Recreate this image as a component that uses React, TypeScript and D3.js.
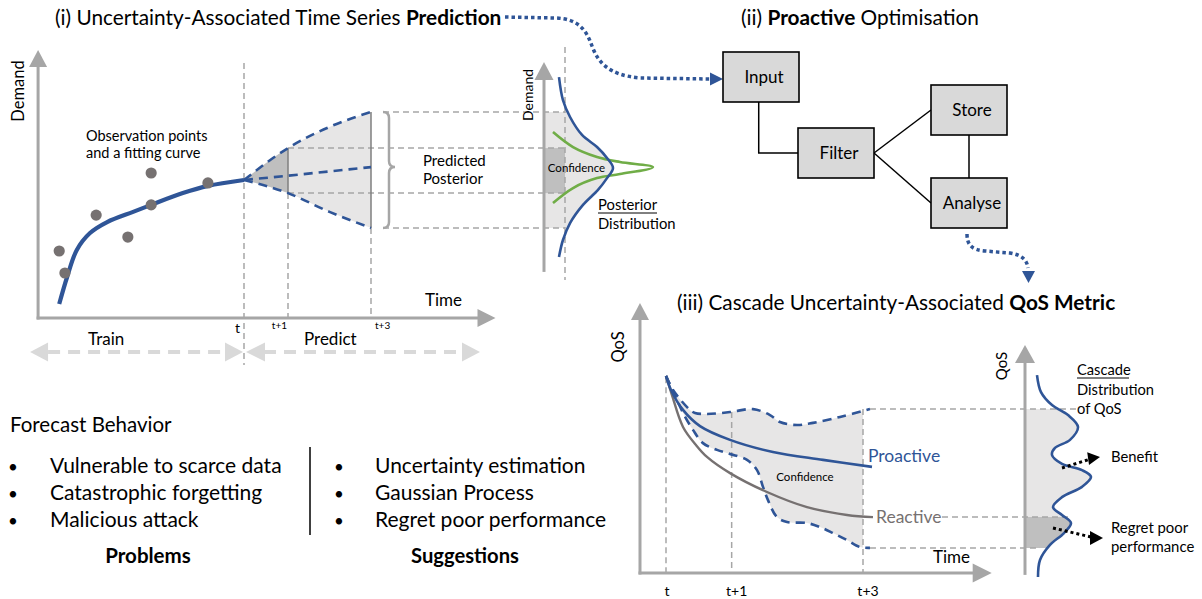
import React from "react";
import * as d3 from "d3";

// ---------------- Panel (i): time series prediction ----------------
const obsTime = [-4.2, -4.07, -3.36, -2.64, -2.11, -2.11, -0.82];
const obsDemand = [2.5, 1.68, 3.84, 3.02, 5.41, 4.22, 5.04];
const fitTime = [-4.2, -4.02, -3.8, -3.5, -3.11, -2.52, -2.11, -1.39, -0.82, 0];
const fitDemand = [0.52, 1.53, 2.54, 3.17, 3.58, 3.96, 4.22, 4.66, 4.93, 5.15];
const coneTime = [0, 1, 2, 3];
const coneUpper = [5.15, 6.34, 7.13, 7.69];
const coneMid = [5.15, 5.31, 5.47, 5.63];
const coneLower = [5.15, 4.66, 3.96, 3.36];
const predTickTimes = [0, 1, 3];
const predTickLabels = ["t", "t+1", "t+3"];
// posterior distribution (density vs demand)
const postDensity = [1.25, 1.58, 2.17, 3.17, 4.42, 5.25, 5.75, 5.25, 4.5, 3.25, 2.17, 1.58, 1.25];
const postDemand = [8.99, 8.13, 7.5, 6.83, 6.38, 5.97, 5.6, 5.22, 4.78, 4.22, 3.54, 2.91, 2.28];
const confDensity = [0.75, 2.42, 4.42, 6.33, 9.08, 6.33, 4.42, 2.42, 0.75];
const confDemand = [6.94, 6.38, 6.01, 5.82, 5.63, 5.37, 5.22, 4.85, 4.29];

// ---------------- Panel (iii): QoS metric ----------------
const qosTickTimes = [0, 1, 3];
const qosTickLabels = ["t", "t+1", "t+3"];
const proactiveTime = [0, 0.076, 0.259, 0.518, 0.975, 1.629, 2.391, 3.137];
const proactiveQoS = [7.3, 6.78, 6.04, 5.44, 4.93, 4.48, 4.19, 3.93];
const reactiveTime = [0, 0.091, 0.259, 0.457, 0.624, 0.975, 1.538, 2.147, 2.756, 3.152];
const reactiveQoS = [7.3, 6.59, 5.41, 4.74, 4.3, 3.7, 3.0, 2.44, 2.15, 2.07];
const bandUpperTime = [0, 0.107, 0.365, 0.442, 0.624, 0.975, 1.325, 1.584, 1.736, 1.995, 2.239, 2.65, 3.106];
const bandUpperQoS = [7.3, 6.78, 6.04, 5.93, 5.89, 5.96, 6.07, 5.85, 5.59, 5.48, 5.56, 5.78, 6.07];
const bandLowerTime = [0, 0.167, 0.259, 0.411, 0.563, 0.777, 0.975, 1.234, 1.386, 1.477, 1.553, 1.69, 1.843, 2.147, 2.345, 2.543, 2.756, 2.954, 3.106];
const bandLowerQoS = [7.3, 6.41, 5.93, 5.3, 4.81, 4.56, 4.41, 4.19, 3.81, 3.19, 2.7, 2.07, 1.89, 1.85, 1.7, 1.48, 1.22, 0.96, 0.93];
const cascadeDensity = [1.2, 1.6, 2.7, 4.3, 5.3, 4.5, 3.0, 2.7, 3.7, 5.7, 6.6, 5.7, 3.7, 2.8, 3.7, 4.6, 3.9, 2.5, 1.5, 1.3];
const cascadeQoS = [7.33, 6.7, 6.22, 5.85, 5.41, 4.93, 4.63, 4.37, 4.04, 3.81, 3.56, 3.19, 2.81, 2.44, 2.15, 1.85, 1.48, 1.04, 0.48, -0.15];

// ---------------- Panel (ii): flow ----------------
const flowNodes = ["Input", "Filter", "Store", "Analyse"];
const flowEdges: [string, string][] = [
  ["Input", "Filter"],
  ["Filter", "Store"],
  ["Filter", "Analyse"],
  ["Store", "Analyse"],
];

// ---------------- Text lists ----------------
const problems = ["Vulnerable to scarce data", "Catastrophic forgetting", "Malicious attack"];
const suggestions = ["Uncertainty estimation", "Gaussian Process", "Regret poor performance"];

// ---------------- styles ----------------
const BLUE = "#2f5597";
const AXIS = "#a6a6a6";
const GRID = "#a6a6a6";
const DOT = "#767171";
const LIGHT = "#e7e6e6";
const DARK = "#bfbfbf";
const GREEN = "#70ad47";
const FONT = "Lato, 'Open Sans', sans-serif";

type Dir = "up" | "down" | "right" | "left";
function tri(x: number, y: number, dir: Dir, len: number, half: number) {
  let pts: number[][] = [];
  if (dir === "up") pts = [[x, y], [x - half, y + len], [x + half, y + len]];
  if (dir === "down") pts = [[x, y], [x - half, y - len], [x + half, y - len]];
  if (dir === "right") pts = [[x, y], [x - len, y - half], [x - len, y + half]];
  if (dir === "left") pts = [[x, y], [x + len, y - half], [x + len, y + half]];
  return pts.map((p) => p.join(",")).join(" ");
}

const zip = (a: number[], b: number[]) => a.map((v, i) => [v, b[i]] as [number, number]);

export default function App() {
  // Panel (i) scales
  const xA = d3.scaleLinear().domain([0, 1, 3]).range([244, 288, 371]);
  const yA = d3.scaleLinear().domain([0, 10]).range([318, 50]);
  const dA = d3.scaleLinear().domain([0, 10]).range([544, 664]);
  const tMinA = -4.68;
  const tMaxA = 6;

  // Panel (iii) scales
  const xC = d3.scaleLinear().domain([0, 3]).range([666, 863]);
  const yC = d3.scaleLinear().domain([0, 10]).range([573, 303]);
  const cC = d3.scaleLinear().domain([0, 10]).range([1025, 1125]);
  const tMinC = -0.396;
  const tMaxC = 4.96;

  const lineA = d3.line<[number, number]>().x((d) => xA(d[0])).y((d) => yA(d[1])).curve(d3.curveCatmullRom.alpha(0.5));
  const lineD = d3.line<[number, number]>().x((d) => dA(d[0])).y((d) => yA(d[1])).curve(d3.curveCatmullRom.alpha(0.5));
  const lineC = d3.line<[number, number]>().x((d) => xC(d[0])).y((d) => yC(d[1])).curve(d3.curveCatmullRom.alpha(0.5));
  const lineCD = d3.line<[number, number]>().x((d) => cC(d[0])).y((d) => yC(d[1])).curve(d3.curveCatmullRom.alpha(0.5));
  const coneArea = d3
    .area<number>()
    .x((_, i) => xA(coneTime[i]))
    .y0((_, i) => yA(coneLower[i]))
    .y1((_, i) => yA(coneUpper[i]))
    .curve(d3.curveMonotoneX);
  const coneLine = (vals: number[]) =>
    d3.line<number>().x((_, i) => xA(coneTime[i])).y((v) => yA(v)).curve(d3.curveMonotoneX)(vals) || "";

  const last = (a: number[]) => a[a.length - 1];
  const cUp = last(coneUpper);
  const cLo = last(coneLower);
  const c1Up = coneUpper[1];
  const c1Lo = coneLower[1];

  // posterior fill
  const postPts = zip(postDensity, postDemand);
  const postFill =
    (lineD(postPts) || "") +
    `L${dA(0)},${yA(last(postDemand))}L${dA(0)},${yA(postDemand[0])}Z`;
  const postDash = 1.75;

  // band fill (iii)
  const upPts = zip(bandUpperTime, bandUpperQoS);
  const loPts = zip(bandLowerTime, bandLowerQoS);
  const bandFill = (lineC(upPts) || "") + (lineC(loPts.slice().reverse()) || "").replace(/^M/, "L") + "Z";
  const bandUpEnd = last(bandUpperQoS);
  const bandLoEnd = last(bandLowerQoS);
  const reactEnd = last(reactiveQoS);

  const cascPts = zip(cascadeDensity, cascadeQoS);
  const cascFill = (lineCD(cascPts) || "") + `L${cC(0)},${yC(last(cascadeQoS))}L${cC(0)},${yC(cascadeQoS[0])}Z`;

  // flow layout
  const boxW = 76;
  const boxH = 50;
  const flowPos: Record<string, [number, number]> = {
    Input: [723, 52],
    Filter: [798, 128],
    Store: [931, 85],
    Analyse: [931, 178],
  };
  const edgePath = (s: string, t: string) => {
    const [sx, sy] = flowPos[s];
    const [tx, ty] = flowPos[t];
    if (tx > sx + boxW / 2 && ty > sy + boxH) {
      const x0 = sx + boxW * 0.47;
      return `M${x0},${sy + boxH}V${ty + boxH / 2}H${tx}`;
    }
    if (tx > sx + boxW) {
      return `M${sx + boxW},${sy + boxH / 2}L${tx},${ty + boxH / 2}`;
    }
    const xm = sx + boxW / 2;
    return `M${xm},${sy + boxH}L${xm},${ty}`;
  };

  const gridProps = { stroke: GRID, strokeWidth: 1.5, strokeDasharray: "6 4", fill: "none" };
  const blueDash = { stroke: BLUE, strokeWidth: 2.6, strokeDasharray: "9 6", fill: "none" };

  const ax0 = xA(tMinA);
  const ay0 = yA(0);
  const xc0 = xC(tMinC);
  const yc0 = yC(0);

  // brace
  const bx = 383;
  const bTop = yA(cUp);
  const bBot = yA(cLo);
  const bMid = yA(coneMid[3]);
  const brace = `M${bx},${bTop}Q${bx + 6},${bTop} ${bx + 6},${bTop + 6}L${bx + 6},${bMid - 6}Q${bx + 6},${bMid} ${bx + 12},${bMid}Q${bx + 6},${bMid} ${bx + 6},${bMid + 6}L${bx + 6},${bBot - 6}Q${bx + 6},${bBot} ${bx},${bBot}`;

  const TITLE = 20.8;
  const LIST = 21;

  return (
    <svg
      width={1202}
      height={599}
      style={{ position: "absolute", left: 0, top: 0, background: "#fff" }}
      fontFamily={FONT}
    >
      <defs>
        <clipPath id="clipCone1">
          <rect x={xA(0) - 1} y={0} width={xA(1) - xA(0) + 1} height={400} />
        </clipPath>
        <clipPath id="clipPost">
          <rect x={dA(0)} y={yA(cUp)} width={200} height={yA(cLo) - yA(cUp)} />
        </clipPath>
        <clipPath id="clipBand">
          <rect x={xC(0) - 5} y={250} width={xC(3) - xC(0) + 5} height={350} />
        </clipPath>
        <clipPath id="clipCascLight">
          <rect x={cC(0)} y={yC(bandUpEnd)} width={200} height={yC(reactEnd) - yC(bandUpEnd)} />
        </clipPath>
        <clipPath id="clipCascDark">
          <rect x={cC(0)} y={yC(reactEnd)} width={200} height={yC(bandLoEnd) - yC(reactEnd)} />
        </clipPath>
      </defs>

      {/* ================= Panel (i) ================= */}
      <text x={55} y={25} fontSize={TITLE} fill="#000">
        (i) Uncertainty-Associated Time Series <tspan fontWeight="bold">Prediction</tspan>
      </text>

      {/* cone fills */}
      <path d={coneArea(coneTime) || ""} fill={LIGHT} />
      <path d={coneArea(coneTime) || ""} fill={DARK} clipPath="url(#clipCone1)" />

      {/* posterior fills */}
      <path d={postFill} fill={LIGHT} clipPath="url(#clipPost)" />
      <rect x={dA(0)} y={yA(c1Up)} width={dA(postDash) - dA(0)} height={yA(c1Lo) - yA(c1Up)} fill={DARK} />

      {/* grid dashed lines */}
      <line x1={xA(0)} x2={xA(0)} y1={63} y2={365} {...gridProps} />
      <line x1={xA(1)} x2={xA(1)} y1={yA(c1Lo)} y2={ay0} {...gridProps} />
      <line x1={xA(3)} x2={xA(3)} y1={yA(cLo)} y2={ay0} {...gridProps} />
      <line x1={dA(postDash)} x2={dA(postDash)} y1={47} y2={280} {...gridProps} />
      <line x1={bx} x2={dA(postDash)} y1={yA(cUp)} y2={yA(cUp)} {...gridProps} />
      <line x1={bx} x2={dA(postDash)} y1={yA(cLo)} y2={yA(cLo)} {...gridProps} />
      <line x1={xA(1)} x2={dA(postDash)} y1={yA(c1Up)} y2={yA(c1Up)} {...gridProps} />
      <line x1={xA(1)} x2={dA(postDash)} y1={yA(c1Lo)} y2={yA(c1Lo)} {...gridProps} />

      {/* solid verticals in cone */}
      <line x1={xA(1)} x2={xA(1)} y1={yA(c1Up)} y2={yA(c1Lo)} stroke="#7f7f7f" strokeWidth={1.5} />
      <line x1={xA(3)} x2={xA(3)} y1={yA(cUp)} y2={yA(cLo)} stroke="#7f7f7f" strokeWidth={1.5} />

      {/* brace */}
      <path d={brace} fill="none" stroke={AXIS} strokeWidth={2.5} />

      {/* axes */}
      <line x1={ax0} x2={ax0} y1={ay0 + 1.5} y2={yA(10) + 16} stroke={AXIS} strokeWidth={3} />
      <polygon points={tri(ax0, yA(10), "up", 17, 9)} fill={AXIS} />
      <line x1={ax0 - 1.5} x2={xA(tMaxA) - 17} y1={ay0} y2={ay0} stroke={AXIS} strokeWidth={3} />
      <polygon points={tri(xA(tMaxA), ay0, "right", 18, 9)} fill={AXIS} />

      {/* posterior axis */}
      <line x1={dA(0)} x2={dA(0)} y1={yA(1.72)} y2={yA(9.55) + 16} stroke={AXIS} strokeWidth={3} />
      <polygon points={tri(dA(0), yA(9.55), "up", 18, 9.5)} fill={AXIS} />

      {/* fit curve */}
      <path d={lineA(zip(fitTime, fitDemand)) || ""} fill="none" stroke={BLUE} strokeWidth={4.2} strokeLinecap="butt" />
      {/* cone dashed */}
      <path d={coneLine(coneUpper)} {...blueDash} />
      <path d={coneLine(coneMid)} {...blueDash} />
      <path d={coneLine(coneLower)} {...blueDash} />

      {/* observation dots */}
      {obsTime.map((t, i) => (
        <circle key={i} cx={xA(t)} cy={yA(obsDemand[i])} r={5.6} fill={DOT} />
      ))}

      {/* posterior curves */}
      <path d={lineD(zip(confDensity, confDemand)) || ""} fill="none" stroke={GREEN} strokeWidth={2.6} />
      <path d={lineD(postPts) || ""} fill="none" stroke={BLUE} strokeWidth={2.6} />

      {/* texts panel (i) */}
      <text transform={`translate(24,91) rotate(-90)`} textAnchor="middle" fontSize={16.5}>Demand</text>
      <text x={86} y={141} fontSize={14.5}>Observation points</text>
      <text x={86} y={158} fontSize={14.5}>and a fitting curve</text>
      <text x={423} y={166} fontSize={15}>Predicted</text>
      <text x={423} y={184} fontSize={15}>Posterior</text>
      <text transform={`translate(533,95) rotate(-90)`} textAnchor="middle" fontSize={14}>Demand</text>
      <text x={576.5} y={172} textAnchor="middle" fontSize={11.5}>Confidence</text>
      <text x={598} y={210} fontSize={14.8}>Posterior</text>
      <line x1={598} x2={657} y1={213} y2={213} stroke="#000" strokeWidth={1} />
      <text x={598} y={229} fontSize={14.8}>Distribution</text>
      <text x={425} y={306} fontSize={17}>Time</text>
      {predTickTimes.map((t, i) => {
        const anchor = i === 0 ? "end" : i === 1 ? "end" : "start";
        const dx = i === 0 ? -4 : i === 1 ? -1 : 4;
        const fs = i === 0 ? 14 : 10;
        const y = i === 0 ? 333 : 329;
        return (
          <text key={i} x={xA(t) + dx} y={y} textAnchor={anchor} fontSize={fs}>
            {predTickLabels[i]}
          </text>
        );
      })}

      {/* train / predict arrows */}
      <line x1={ax0 - 8 + 18} x2={xA(0) - 2 - 17} y1={352} y2={352} stroke="#d9d9d9" strokeWidth={4} strokeDasharray="12 8" />
      <polygon points={tri(ax0 - 8, 352, "left", 18, 9.5)} fill="#d9d9d9" />
      <polygon points={tri(xA(0) - 1, 352, "right", 18, 9.5)} fill="#d9d9d9" />
      <line x1={xA(0) + 2 + 18} x2={480 - 17} y1={352} y2={352} stroke="#d9d9d9" strokeWidth={4} strokeDasharray="12 8" />
      <polygon points={tri(xA(0) + 2, 352, "left", 19, 9.5)} fill="#d9d9d9" />
      <polygon points={tri(480, 352, "right", 18, 9.5)} fill="#d9d9d9" />
      <text x={88} y={345} fontSize={17}>Train</text>
      <text x={304} y={345} fontSize={17}>Predict</text>

      {/* connector Prediction -> Input */}
      <path
        d="M505,17 L556,18 C580,19 587,32 592,46 C598,62 608,75 640,78 L711,79"
        fill="none"
        stroke={BLUE}
        strokeWidth={3.5}
        strokeDasharray="3.5 3"
      />
      <polygon points={tri(723, 79, "right", 13, 6.5)} fill={BLUE} />

      {/* ================= Panel (ii) ================= */}
      <text x={741} y={25} fontSize={TITLE}>
        (ii) <tspan fontWeight="bold">Proactive</tspan> Optimisation
      </text>
      {flowEdges.map(([s, t], i) => (
        <path key={i} d={edgePath(s, t)} fill="none" stroke="#000" strokeWidth={1.5} />
      ))}
      {flowNodes.map((n) => {
        const [x, y] = flowPos[n];
        return (
          <g key={n}>
            <rect x={x} y={y} width={boxW} height={boxH} fill="#d9d9d9" stroke="#000" strokeWidth={1.6} />
            <text x={x + boxW / 2 + 3} y={y + boxH / 2 + 6} textAnchor="middle" fontSize={17}>
              {n}
            </text>
          </g>
        );
      })}
      {/* connector Analyse -> QoS */}
      <path
        d="M967,234 C967,245 972,250 985,251 L1010,253 C1022,255 1027,260 1028,268"
        fill="none"
        stroke={BLUE}
        strokeWidth={3.5}
        strokeDasharray="3.5 3"
      />
      <polygon points={tri(1028.5, 283, "down", 12, 6.5)} fill={BLUE} />

      {/* ================= Panel (iii) ================= */}
      <text x={677} y={310} fontSize={TITLE}>
        (iii) Cascade Uncertainty-Associated <tspan fontWeight="bold">QoS Metric</tspan>
      </text>

      <path d={bandFill} fill={LIGHT} clipPath="url(#clipBand)" />
      <path d={cascFill} fill={LIGHT} clipPath="url(#clipCascLight)" />
      <path d={cascFill} fill={DARK} clipPath="url(#clipCascDark)" />

      {/* grid */}
      <line x1={xC(0)} x2={xC(0)} y1={yC(7.25)} y2={yc0} {...gridProps} />
      <line x1={xC(1)} x2={xC(1)} y1={yC(5.96)} y2={yc0} {...gridProps} />
      <line x1={xC(3)} x2={xC(3)} y1={yC(bandUpEnd)} y2={yc0} {...gridProps} />
      <line x1={xC(3.106)} x2={cC(5.5)} y1={yC(bandUpEnd)} y2={yC(bandUpEnd)} {...gridProps} />
      <line x1={942} x2={cC(4.3)} y1={yC(reactEnd)} y2={yC(reactEnd)} {...gridProps} />
      <line x1={xC(3.106)} x2={cC(1.5)} y1={yC(bandLoEnd)} y2={yC(bandLoEnd)} {...gridProps} />

      {/* axes */}
      <line x1={xc0} x2={xc0} y1={yc0 + 1.5} y2={yC(10) + 16} stroke={AXIS} strokeWidth={3} />
      <polygon points={tri(xc0, yC(10), "up", 17, 9)} fill={AXIS} />
      <line x1={xc0 - 1.5} x2={xC(tMaxC) - 17} y1={yc0} y2={yc0} stroke={AXIS} strokeWidth={3} />
      <polygon points={tri(xC(tMaxC), yc0, "right", 19, 9.5)} fill={AXIS} />
      <line x1={cC(0)} x2={cC(0)} y1={yC(-0.07)} y2={yC(8.44) + 16} stroke={AXIS} strokeWidth={3} />
      <polygon points={tri(cC(0), yC(8.44), "up", 18, 10)} fill={AXIS} />

      {/* curves */}
      <path d={lineC(upPts) || ""} {...blueDash} />
      <path d={lineC(loPts) || ""} {...blueDash} />
      <path d={lineC(zip(reactiveTime, reactiveQoS)) || ""} fill="none" stroke={DOT} strokeWidth={2.4} />
      <path d={lineC(zip(proactiveTime, proactiveQoS)) || ""} fill="none" stroke={BLUE} strokeWidth={2.6} />
      <path d={lineCD(cascPts) || ""} fill="none" stroke={BLUE} strokeWidth={2.6} />

      {/* texts (iii) */}
      <text transform={`translate(624,347) rotate(-90)`} textAnchor="middle" fontSize={16.5}>QoS</text>
      <text transform={`translate(1007,366) rotate(-90)`} textAnchor="middle" fontSize={15}>QoS</text>
      <text x={933} y={563} fontSize={17}>Time</text>
      {qosTickTimes.map((t, i) => (
        <text key={i} x={xC(t) + (i === 0 ? 1 : 5)} y={596} textAnchor="middle" fontSize={14}>
          {qosTickLabels[i]}
        </text>
      ))}
      <text x={805} y={481} textAnchor="middle" fontSize={11.5}>Confidence</text>
      <text x={868} y={462} fontSize={17.5} fill={BLUE}>Proactive</text>
      <text x={876} y={523} fontSize={17.5} fill={DOT}>Reactive</text>
      <text x={1077} y={375} fontSize={14.7}>Cascade</text>
      <line x1={1077} x2={1129} y1={378} y2={378} stroke="#000" strokeWidth={1} />
      <text x={1077} y={395} fontSize={14.7}>Distribution</text>
      <text x={1077} y={414} fontSize={14.7}>of QoS</text>

      {/* benefit / regret arrows */}
      <line x1={1062} y1={468} x2={1089} y2={459.5} stroke="#000" strokeWidth={3} strokeDasharray="3 3" />
      <polygon points={tri(1100, 457, "right", 12, 6.5)} fill="#000" transform="rotate(-8 1100 457)" />
      <text x={1111} y={462} fontSize={14.8}>Benefit</text>
      <line x1={1053} y1={528} x2={1091} y2={537} stroke="#000" strokeWidth={3} strokeDasharray="3 3" />
      <polygon points={tri(1103, 538, "right", 13, 7)} fill="#000" />
      <text x={1111} y={533} fontSize={14.9}>Regret poor</text>
      <text x={1111} y={552} fontSize={14.9}>performance</text>

      {/* ================= Forecast behaviour text ================= */}
      <text x={10} y={432} fontSize={20.5}>Forecast Behavior</text>
      {problems.map((p, i) => (
        <g key={p}>
          <text x={8} y={473 + i * 27} fontSize={17}>•</text>
          <text x={50} y={473 + i * 27} fontSize={LIST}>{p}</text>
        </g>
      ))}
      {suggestions.map((p, i) => (
        <g key={p}>
          <text x={334} y={473 + i * 27} fontSize={17}>•</text>
          <text x={375} y={473 + i * 27} fontSize={LIST}>{p}</text>
        </g>
      ))}
      <line x1={310} x2={310} y1={447} y2={535} stroke="#000" strokeWidth={1.5} />
      <text x={148} y={563} textAnchor="middle" fontSize={20.5} fontWeight="bold">Problems</text>
      <text x={465} y={563} textAnchor="middle" fontSize={20.2} fontWeight="bold">Suggestions</text>
    </svg>
  );
}
